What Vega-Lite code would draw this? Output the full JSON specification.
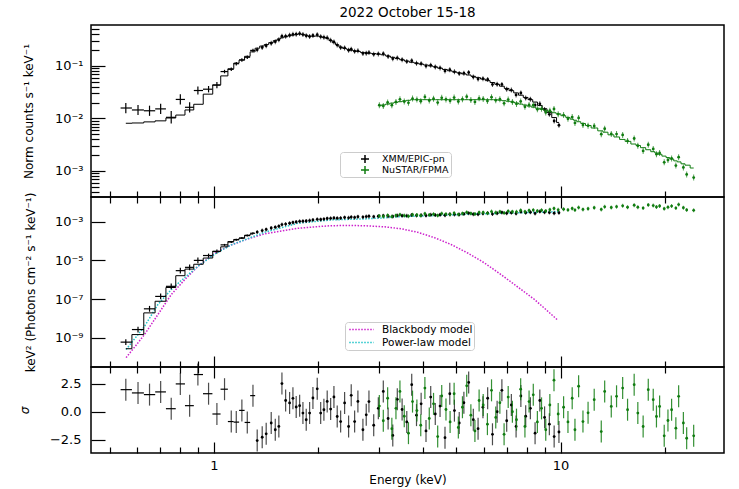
{
  "$schema": "https://vega.github.io/schema/vega-lite/v6.json",
  "background": "white",
  "padding": {"left": 17, "top": 4, "right": 5, "bottom": 5},
  "spacing": 0,
  "bounds": "flush",
  "config": {
    "font": "DejaVu Sans",
    "view": {"stroke": "#000000", "strokeWidth": 1.5},
    "axis": {"domain": false, "grid": false, "tickColor": "#000000", "tickWidth": 1.2, "labelColor": "#000000", "titleColor": "#000000", "labelFont": "DejaVu Sans", "titleFont": "DejaVu Sans", "labelFontSize": 13, "titleFontSize": 12, "titleFontWeight": "normal"}
  },
  "resolve": {"scale": {"x": "independent", "y": "independent", "color": "independent"}},
  "datasets": {
    "xmm": [
      {"E":0.557,"lo":0.538,"hi":0.58,"c":0.0158,"cl":0.0126,"ch":0.0197,"m":0.0081,"u":6.03e-10,"ul":4.27e-10,"uh":8.51e-10,"um":2.75e-10,"r":1.96},
      {"E":0.604,"lo":0.58,"hi":0.628,"c":0.0145,"cl":0.0116,"ch":0.0181,"m":0.0082,"u":2.69e-9,"ul":1.91e-9,"uh":3.8e-9,"um":1.48e-9,"r":1.67},
      {"E":0.652,"lo":0.628,"hi":0.677,"c":0.014,"cl":0.0112,"ch":0.0175,"m":0.0086,"u":3.16e-8,"ul":2.24e-8,"uh":4.47e-8,"um":1.95e-8,"r":1.52},
      {"E":0.702,"lo":0.677,"hi":0.727,"c":0.0152,"cl":0.0122,"ch":0.019,"m":0.009,"u":1.38e-7,"ul":9.77e-8,"uh":1.95e-7,"um":7.76e-8,"r":1.76},
      {"E":0.753,"lo":0.727,"hi":0.776,"c":0.0105,"cl":0.008,"ch":0.0138,"m":0.0102,"u":4.57e-7,"ul":3.24e-7,"uh":6.46e-7,"um":3.98e-7,"r":0.27},
      {"E":0.8,"lo":0.776,"hi":0.825,"c":0.023,"cl":0.0184,"ch":0.0288,"m":0.0116,"u":2.95e-6,"ul":2.09e-6,"uh":4.17e-6,"um":1.62e-6,"r":2.47},
      {"E":0.851,"lo":0.825,"hi":0.875,"c":0.0163,"cl":0.013,"ch":0.0204,"m":0.0145,"u":4.37e-6,"ul":3.09e-6,"uh":6.17e-6,"um":3.55e-6,"r":0.54},
      {"E":0.899,"lo":0.875,"hi":0.93,"c":0.034,"cl":0.0285,"ch":0.0405,"m":0.0186,"u":1e-5,"ul":7.08e-6,"uh":1.41e-5,"um":6.31e-6,"r":3.3},
      {"E":0.965,"lo":0.93,"hi":0.99,"c":0.036,"cl":0.0313,"ch":0.0414,"m":0.029,"u":1.78e-5,"ul":1.41e-5,"uh":2.24e-5,"um":1.32e-5,"r":1.6},
      {"E":1.02,"lo":0.99,"hi":1.045,"c":0.043,"cl":0.0374,"ch":0.0495,"m":0.0435,"u":2.88e-5,"ul":2.29e-5,"uh":3.63e-5,"um":2.95e-5,"r":-0.2},
      {"E":1.073,"lo":1.045,"hi":1.097,"c":0.078,"cl":0.0722,"ch":0.0842,"m":0.0645,"u":6.31e-5,"ul":5.62e-5,"uh":7.08e-5,"um":5.01e-5,"r":2.0},
      {"E":1.122,"lo":1.097,"hi":1.14,"c":0.086,"cl":0.0796,"ch":0.0929,"m":0.088,"u":8.91e-5,"ul":7.94e-5,"uh":1e-4,"um":9.33e-5,"r":-0.87},
      {"E":1.16,"lo":1.14,"hi":1.182,"c":0.11,"cl":0.1019,"ch":0.1188,"m":0.113,"u":1.148e-4,"ul":1.023e-4,"uh":1.288e-4,"um":1.202e-4,"r":-0.92},
      {"E":1.204,"lo":1.182,"hi":1.226,"c":0.13,"cl":0.1204,"ch":0.1404,"m":0.129,"u":1.413e-4,"ul":1.259e-4,"uh":1.585e-4,"um":1.413e-4,"r":0.12},
      {"E":1.248,"lo":1.226,"hi":1.272,"c":0.146,"cl":0.1352,"ch":0.1577,"m":0.152,"u":1.905e-4,"ul":1.698e-4,"uh":2.138e-4,"um":1.995e-4,"r":-0.95},
      {"E":1.296,"lo":1.272,"hi":1.315,"c":0.197,"cl":0.1824,"ch":0.2128,"m":0.185,"u":2.512e-4,"ul":2.239e-4,"uh":2.818e-4,"um":2.291e-4,"r":1.43},
      {"E":1.333,"c":0.2018,"m":0.2168,"u":0.0002877,"r":-2.56},
      {"E":1.378,"c":0.2239,"m":0.2382,"u":0.0003451,"r":-2.26},
      {"E":1.415,"c":0.2412,"m":0.2547,"u":0.0003958,"r":-1.96},
      {"E":1.463,"c":0.2698,"m":0.2773,"u":0.0004699,"r":-1.0},
      {"E":1.503,"c":0.2891,"m":0.302,"u":0.0005188,"r":-1.6},
      {"E":1.539,"c":0.3135,"m":0.3251,"u":0.0005786,"r":-1.3},
      {"E":1.571,"c":0.3673,"m":0.3428,"u":0.0007031,"r":2.5},
      {"E":1.61,"c":0.3673,"m":0.3573,"u":0.0007464,"r":1.0},
      {"E":1.653,"c":0.3823,"m":0.3741,"u":0.000821,"r":0.78},
      {"E":1.69,"c":0.3984,"m":0.3855,"u":0.0009041,"r":1.19},
      {"E":1.727,"c":0.3999,"m":0.3954,"u":0.0009616,"r":0.42},
      {"E":1.767,"c":0.4125,"m":0.4064,"u":0.001032,"r":0.54},
      {"E":1.806,"c":0.395,"m":0.3963,"u":0.001053,"r":-0.12},
      {"E":1.846,"c":0.3745,"m":0.3819,"u":0.001075,"r":-0.71},
      {"E":1.888,"c":0.3627,"m":0.3639,"u":0.001136,"r":-0.12},
      {"E":1.93,"c":0.3789,"m":0.3664,"u":0.001224,"r":1.22},
      {"E":1.986,"c":0.3921,"m":0.3707,"u":0.001317,"r":2.03},
      {"E":2.032,"c":0.3594,"m":0.3606,"u":0.001293,"r":-0.12},
      {"E":2.076,"c":0.3492,"m":0.3475,"u":0.001359,"r":0.18},
      {"E":2.122,"c":0.342,"m":0.3334,"u":0.001445,"r":0.92},
      {"E":2.171,"c":0.3061,"m":0.3041,"u":0.001479,"r":0.24},
      {"E":2.219,"c":0.2862,"m":0.2761,"u":0.001558,"r":1.31},
      {"E":2.268,"c":0.2489,"m":0.2518,"u":0.001514,"r":-0.42},
      {"E":2.32,"c":0.2227,"m":0.228,"u":0.001523,"r":-0.87},
      {"E":2.382,"c":0.22,"m":0.2153,"u":0.001627,"r":0.78},
      {"E":2.446,"c":0.1987,"m":0.2061,"u":0.001571,"r":-1.31},
      {"E":2.489,"c":0.2077,"m":0.1995,"u":0.00172,"r":1.46},
      {"E":2.546,"c":0.189,"m":0.1936,"u":0.001654,"r":-0.87},
      {"E":2.602,"c":0.1932,"m":0.1884,"u":0.001778,"r":0.92},
      {"E":2.69,"c":0.1725,"m":0.1803,"u":0.001721,"r":-1.6},
      {"E":2.75,"c":0.1749,"m":0.1762,"u":0.001814,"r":-0.27},
      {"E":2.8,"c":0.179,"m":0.1746,"u":0.001891,"r":0.9},
      {"E":2.89,"c":0.1658,"m":0.1714,"u":0.001809,"r":-1.2},
      {"E":2.98,"c":0.1693,"m":0.1679,"u":0.001916,"r":0.3},
      {"E":3.08,"c":0.1708,"m":0.1626,"u":0.00202,"r":1.8},
      {"E":3.18,"c":0.1513,"m":0.1538,"u":0.001913,"r":-0.6},
      {"E":3.28,"c":0.1373,"m":0.1455,"u":0.001861,"r":-2.1},
      {"E":3.38,"c":0.1419,"m":0.1377,"u":0.002056,"r":1.1},
      {"E":3.49,"c":0.1313,"m":0.1306,"u":0.002029,"r":0.2},
      {"E":3.6,"c":0.1206,"m":0.1236,"u":0.001991,"r":-0.9},
      {"E":3.72,"c":0.1253,"m":0.1172,"u":0.002207,"r":2.4},
      {"E":3.84,"c":0.1117,"m":0.1127,"u":0.002071,"r":-0.3},
      {"E":3.96,"c":0.1102,"m":0.1081,"u":0.002154,"r":0.7},
      {"E":4.09,"c":0.09922,"m":0.104,"u":0.002044,"r":-1.7},
      {"E":4.22,"c":0.1034,"m":0.09977,"u":0.002247,"r":1.3},
      {"E":4.35,"c":0.09519,"m":0.09572,"u":0.00218,"r":-0.2},
      {"E":4.49,"c":0.09162,"m":0.09036,"u":0.002259,"r":0.5},
      {"E":4.64,"c":0.08024,"m":0.08551,"u":0.002125,"r":-2.3},
      {"E":4.79,"c":0.08437,"m":0.08072,"u":0.002411,"r":1.6},
      {"E":4.94,"c":0.07713,"m":0.07691,"u":0.002351,"r":0.1},
      {"E":5.1,"c":0.07161,"m":0.07362,"u":0.002317,"r":-1.0},
      {"E":5.26,"c":0.07267,"m":0.07031,"u":0.002503,"r":0.8},
      {"E":5.43,"c":0.07478,"m":0.06714,"u":0.00274,"r":2.6},
      {"E":5.6,"c":0.06143,"m":0.06324,"u":0.002429,"r":-0.7},
      {"E":5.78,"c":0.0561,"m":0.0597,"u":0.002388,"r":-1.5},
      {"E":5.97,"c":0.05717,"m":0.05623,"u":0.002625,"r":0.4},
      {"E":6.16,"c":0.05503,"m":0.05236,"u":0.002764,"r":1.2},
      {"E":6.36,"c":0.04446,"m":0.04831,"u":0.00246,"r":-2.0},
      {"E":6.56,"c":0.04467,"m":0.04467,"u":0.002716,"r":0.0},
      {"E":6.77,"c":0.04448,"m":0.04111,"u":0.002987,"r":1.9},
      {"E":6.99,"c":0.03602,"m":0.03724,"u":0.002707,"r":-0.8},
      {"E":7.21,"c":0.03466,"m":0.03381,"u":0.002903,"r":0.6},
      {"E":7.44,"c":0.02799,"m":0.03062,"u":0.002624,"r":-1.3},
      {"E":7.68,"c":0.03055,"m":0.02773,"u":0.003206,"r":1.4},
      {"E":7.93,"c":0.02443,"m":0.02512,"u":0.002871,"r":-0.4},
      {"E":8.18,"c":0.02328,"m":0.0228,"u":0.003048,"r":0.3},
      {"E":8.44,"c":0.01799,"m":0.02051,"u":0.002655,"r":-1.9},
      {"E":8.71,"c":0.01897,"m":0.0177,"u":0.003289,"r":1.0},
      {"E":8.99,"c":0.01476,"m":0.01528,"u":0.003006,"r":-0.5},
      {"E":9.28,"c":0.01197,"m":0.01291,"u":0.002917,"r":-1.1},
      {"E":9.58,"c":0.008933,"m":0.0104,"u":0.002742,"r":-2.2},
      {"E":9.89,"c":0.007413,"m":0.008395,"u":0.002858,"r":-1.8}
    ],
    "nu": [
      {"E":3.0,"c":0.01789,"m":0.01738,"u":0.001961,"r":0.5},
      {"E":3.08,"c":0.01726,"m":0.01807,"u":0.001849,"r":-0.8},
      {"E":3.17,"c":0.02009,"m":0.01875,"u":0.002104,"r":1.2},
      {"E":3.26,"c":0.01789,"m":0.0195,"u":0.00183,"r":-1.5},
      {"E":3.35,"c":0.02058,"m":0.02023,"u":0.002063,"r":0.3},
      {"E":3.44,"c":0.02312,"m":0.02084,"u":0.002286,"r":1.8},
      {"E":3.54,"c":0.02099,"m":0.02148,"u":0.002042,"r":-0.4},
      {"E":3.64,"c":0.01984,"m":0.02213,"u":0.001903,"r":-1.9},
      {"E":3.74,"c":0.02385,"m":0.02275,"u":0.002273,"r":0.9},
      {"E":3.85,"c":0.02288,"m":0.02275,"u":0.002201,"r":0.1},
      {"E":3.95,"c":0.02123,"m":0.02275,"u":0.002075,"r":-1.2},
      {"E":4.06,"c":0.02568,"m":0.02275,"u":0.00255,"r":2.1},
      {"E":4.18,"c":0.02198,"m":0.02275,"u":0.002213,"r":-0.6},
      {"E":4.3,"c":0.02369,"m":0.02275,"u":0.002418,"r":0.7},
      {"E":4.42,"c":0.02004,"m":0.02275,"u":0.00208,"r":-2.2},
      {"E":4.54,"c":0.02466,"m":0.02275,"u":0.002594,"r":1.4},
      {"E":4.67,"c":0.02301,"m":0.02275,"u":0.00246,"r":0.2},
      {"E":4.8,"c":0.0216,"m":0.02275,"u":0.002347,"r":-0.9},
      {"E":4.93,"c":0.02495,"m":0.02275,"u":0.002754,"r":1.6},
      {"E":5.07,"c":0.02099,"m":0.02275,"u":0.00235,"r":-1.4},
      {"E":5.21,"c":0.02328,"m":0.02275,"u":0.002655,"r":0.4},
      {"E":5.36,"c":0.02597,"m":0.02275,"u":0.003017,"r":2.3},
      {"E":5.51,"c":0.02236,"m":0.02275,"u":0.002646,"r":-0.3},
      {"E":5.66,"c":0.02063,"m":0.02275,"u":0.002486,"r":-1.7},
      {"E":5.82,"c":0.0241,"m":0.02275,"u":0.002958,"r":1.0},
      {"E":5.98,"c":0.02355,"m":0.02275,"u":0.002944,"r":0.6},
      {"E":6.15,"c":0.02136,"m":0.02275,"u":0.00272,"r":-1.1},
      {"E":6.32,"c":0.02538,"m":0.02275,"u":0.0033,"r":1.9},
      {"E":6.5,"c":0.0221,"m":0.02275,"u":0.002934,"r":-0.5},
      {"E":6.68,"c":0.02328,"m":0.02223,"u":0.003228,"r":0.8},
      {"E":6.87,"c":0.01936,"m":0.02173,"u":0.002805,"r":-2.0},
      {"E":7.06,"c":0.02288,"m":0.02123,"u":0.003463,"r":1.3},
      {"E":7.26,"c":0.02056,"m":0.02056,"u":0.003281,"r":0.0},
      {"E":7.46,"c":0.0189,"m":0.01968,"u":0.003209,"r":-0.7},
      {"E":7.67,"c":0.02109,"m":0.01879,"u":0.003828,"r":2.0},
      {"E":7.89,"c":0.01669,"m":0.01799,"u":0.003224,"r":-1.3},
      {"E":8.11,"c":0.0181,"m":0.01718,"u":0.003737,"r":0.9},
      {"E":8.34,"c":0.01789,"m":0.01641,"u":0.003949,"r":1.5},
      {"E":8.57,"c":0.01488,"m":0.01567,"u":0.00352,"r":-0.9},
      {"E":8.81,"c":0.01522,"m":0.01496,"u":0.00385,"r":0.3},
      {"E":9.06,"c":0.013,"m":0.01426,"u":0.003524,"r":-1.6},
      {"E":9.31,"c":0.01403,"m":0.01355,"u":0.004093,"r":0.6},
      {"E":9.57,"c":0.0151,"m":0.01285,"u":0.004742,"r":2.8},
      {"E":9.84,"c":0.01208,"m":0.01222,"u":0.004074,"r":-0.2},
      {"E":10.2,"c":0.0116,"m":0.01128,"u":0.004335,"r":0.4},
      {"E":10.5,"c":0.00982,"m":0.01045,"u":0.004036,"r":-0.9},
      {"E":10.8,"c":0.0106,"m":0.0097,"u":0.004769,"r":1.2},
      {"E":11.0,"c":0.00821,"m":0.00924,"u":0.003925,"r":-1.6},
      {"E":11.27,"c":0.01023,"m":0.00866,"u":0.005302,"r":2.26},
      {"E":11.6,"c":0.00749,"m":0.00802,"u":0.004259,"r":-0.87},
      {"E":12.0,"c":0.00728,"m":0.00733,"u":0.00462,"r":-0.1},
      {"E":12.5,"c":0.00718,"m":0.00658,"u":0.005207,"r":1.07},
      {"E":13.1,"c":0.00502,"m":0.00581,"u":0.004251,"r":-1.76},
      {"E":13.4,"c":0.00636,"m":0.00547,"u":0.005792,"r":1.8},
      {"E":14.0,"c":0.00508,"m":0.00488,"u":0.005346,"r":0.47},
      {"E":14.5,"c":0.00504,"m":0.00444,"u":0.005927,"r":1.37},
      {"E":15.1,"c":0.00486,"m":0.00399,"u":0.006501,"r":2.1},
      {"E":15.6,"c":0.00372,"m":0.00366,"u":0.005516,"r":0.18},
      {"E":16.3,"c":0.00415,"m":0.00326,"u":0.007088,"r":2.4},
      {"E":16.7,"c":0.00302,"m":0.00306,"u":0.005567,"r":-0.12},
      {"E":17.3,"c":0.00241,"m":0.00278,"u":0.004994,"r":-1.31},
      {"E":17.9,"c":0.00316,"m":0.00254,"u":0.007278,"r":1.96},
      {"E":18.5,"c":0.00263,"m":0.00233,"u":0.006723,"r":1.07},
      {"E":18.9,"c":0.00209,"m":0.0022,"u":0.005705,"r":-0.42},
      {"E":19.3,"c":0.00221,"m":0.00208,"u":0.006416,"r":0.47},
      {"E":19.9,"c":0.00146,"m":0.00192,"u":0.004658,"r":-2.14},
      {"E":20.4,"c":0.00162,"m":0.0018,"u":0.005557,"r":-0.78},
      {"E":20.9,"c":0.00173,"m":0.00169,"u":0.006319,"r":0.18},
      {"E":21.5,"c":0.00127,"m":0.00156,"u":0.004989,"r":-1.46},
      {"E":21.9,"c":0.00183,"m":0.00149,"u":0.007592,"r":1.37},
      {"E":22.6,"c":0.00117,"m":0.00137,"u":0.005188,"r":-1.0},
      {"E":23.1,"c":0.00086,"m":0.00129,"u":0.004018,"r":-2.35},
      {"E":24.2,"c":0.00075,"m":0.00114,"u":0.003828,"r":-2.14}
    ],
    "mod": [
      {"E":0.558,"f":9.55e-11,"comp":"Blackbody model"},
      {"E":0.597,"f":4.27e-10,"comp":"Blackbody model"},
      {"E":0.631,"f":1.51e-9,"comp":"Blackbody model"},
      {"E":0.689,"f":1.58e-8,"comp":"Blackbody model"},
      {"E":0.753,"f":1.7e-7,"comp":"Blackbody model"},
      {"E":0.823,"f":1.0e-6,"comp":"Blackbody model"},
      {"E":0.899,"f":4.9e-6,"comp":"Blackbody model"},
      {"E":1.005,"f":2.34e-5,"comp":"Blackbody model"},
      {"E":1.122,"f":6.31e-5,"comp":"Blackbody model"},
      {"E":1.253,"f":1.29e-4,"comp":"Blackbody model"},
      {"E":1.4,"f":2.34e-4,"comp":"Blackbody model"},
      {"E":1.564,"f":3.31e-4,"comp":"Blackbody model"},
      {"E":1.75,"f":4.57e-4,"comp":"Blackbody model"},
      {"E":1.95,"f":5.37e-4,"comp":"Blackbody model"},
      {"E":2.18,"f":6.17e-4,"comp":"Blackbody model"},
      {"E":2.43,"f":6.31e-4,"comp":"Blackbody model"},
      {"E":2.72,"f":6.17e-4,"comp":"Blackbody model"},
      {"E":3.11,"f":5.37e-4,"comp":"Blackbody model"},
      {"E":3.47,"f":4.27e-4,"comp":"Blackbody model"},
      {"E":3.87,"f":2.82e-4,"comp":"Blackbody model"},
      {"E":4.33,"f":1.48e-4,"comp":"Blackbody model"},
      {"E":4.83,"f":6.61e-5,"comp":"Blackbody model"},
      {"E":5.41,"f":2.34e-5,"comp":"Blackbody model"},
      {"E":6.04,"f":7.24e-6,"comp":"Blackbody model"},
      {"E":6.74,"f":1.82e-6,"comp":"Blackbody model"},
      {"E":7.53,"f":4.17e-7,"comp":"Blackbody model"},
      {"E":8.41,"f":9.55e-8,"comp":"Blackbody model"},
      {"E":9.19,"f":2.34e-8,"comp":"Blackbody model"},
      {"E":9.83,"f":7.94e-9,"comp":"Blackbody model"},
      {"E":0.558,"f":2.51e-10,"comp":"Power-law model"},
      {"E":0.631,"f":3.98e-9,"comp":"Power-law model"},
      {"E":0.689,"f":5.25e-8,"comp":"Power-law model"},
      {"E":0.753,"f":3.09e-7,"comp":"Power-law model"},
      {"E":0.8,"f":8.32e-7,"comp":"Power-law model"},
      {"E":0.899,"f":4.9e-6,"comp":"Power-law model"},
      {"E":1.005,"f":2.09e-5,"comp":"Power-law model"},
      {"E":1.122,"f":6.31e-5,"comp":"Power-law model"},
      {"E":1.4,"f":2.82e-4,"comp":"Power-law model"},
      {"E":1.75,"f":8.32e-4,"comp":"Power-law model"},
      {"E":2.18,"f":1.23e-3,"comp":"Power-law model"},
      {"E":2.72,"f":1.38e-3,"comp":"Power-law model"},
      {"E":3.11,"f":1.58e-3,"comp":"Power-law model"},
      {"E":3.47,"f":1.82e-3,"comp":"Power-law model"},
      {"E":4.33,"f":2.04e-3,"comp":"Power-law model"},
      {"E":5.41,"f":2.4e-3,"comp":"Power-law model"},
      {"E":6.74,"f":2.69e-3,"comp":"Power-law model"},
      {"E":8.41,"f":3.02e-3,"comp":"Power-law model"},
      {"E":9.83,"f":3.24e-3,"comp":"Power-law model"}
    ]
  },
  "vconcat": [
    {
      "width": 633, "height": 172,
      "title": {"text": "2022 October 15-18", "anchor": "middle", "frame": "group", "fontSize": 13.5, "fontWeight": "normal", "font": "DejaVu Sans", "offset": 6, "color": "#000000"},
      "resolve": {"axis": {"x": "independent", "y": "independent"}},
      "layer": [
        {
          "data": {"name": "xmm"},
          "mark": {"type": "rule", "color": "#000000", "strokeWidth": 1.2},
          "encoding": {
            "x": {"field": "lo", "type": "quantitative", "scale": {"type": "log", "domain": [0.442, 29.6], "nice": false},
                  "axis": {"orient": "bottom", "values": [0.5,0.6,0.7,0.8,0.9,2,3,4,5,6,7,8,9,20], "tickSize": -6, "labels": false, "title": null}},
            "x2": {"field": "hi"},
            "y": {"field": "c", "type": "quantitative", "scale": {"type": "log", "domain": [0.00032, 0.6], "nice": false},
                  "axis": {"orient": "left", "values": [0.001, 0.01, 0.1], "tickSize": -14, "labelPadding": 22, "titlePadding": 19,
                           "labelExpr": "datum.value > 0.05 ? '10⁻¹' : datum.value > 0.005 ? '10⁻²' : '10⁻³'",
                           "title": "Norm counts s⁻¹ keV⁻¹"}}
          }
        },
        {
          "data": {"name": "xmm"},
          "mark": {"type": "rule", "color": "#000000", "strokeWidth": 1.2},
          "encoding": {
            "x": {"field": "E", "type": "quantitative", "axis": {"orient": "bottom", "values": [1, 10], "tickSize": -11, "labels": false, "title": null}},
            "y": {"field": "cl", "type": "quantitative", "axis": {"orient": "left", "values": [0.0004,0.0005,0.0006,0.0007,0.0008,0.0009,0.002,0.003,0.004,0.005,0.006,0.007,0.008,0.009,0.02,0.03,0.04,0.05,0.06,0.07,0.08,0.09,0.2,0.3,0.4,0.5], "tickSize": -8, "labels": false, "title": null}},
            "y2": {"field": "ch"}
          }
        },
        {
          "data": {"name": "xmm"},
          "transform": [{"filter": "!isValid(datum.lo)"}],
          "mark": {"type": "tick", "orient": "vertical", "size": 5, "thickness": 1, "color": "#000000"},
          "encoding": {
            "x": {"field": "E", "type": "quantitative", "axis": null},
            "y": {"field": "c", "type": "quantitative", "axis": null}
          }
        },
        {
          "data": {"name": "xmm"},
          "transform": [{"filter": "!isValid(datum.lo)"}],
          "mark": {"type": "point", "filled": true, "size": 8, "color": "#000000", "opacity": 1},
          "encoding": {
            "x": {"field": "E", "type": "quantitative", "axis": null},
            "y": {"field": "c", "type": "quantitative", "axis": null}
          }
        },
        {
          "data": {"name": "xmm"},
          "mark": {"type": "line", "interpolate": "step", "strokeWidth": 1},
          "encoding": {
            "x": {"field": "E", "type": "quantitative", "axis": null},
            "y": {"field": "m", "type": "quantitative", "axis": null},
            "color": {"datum": "XMM/EPIC-pn", "type": "nominal",
                      "scale": {"domain": ["XMM/EPIC-pn", "NuSTAR/FPMA"], "range": ["#000000", "#107c10"]},
                      "legend": {"orient": "none", "legendX": 249, "legendY": 127, "title": null,
                                 "symbolType": "M-1,0H1M0,-1V1", "symbolSize": 64, "symbolStrokeWidth": 1.5,
                                 "labelFontSize": 9.5, "labelFont": "DejaVu Sans", "labelColor": "#000000",
                                 "labelExpr": "datum.label + '\u00a0\u00a0\u00a0\u00a0\u00a0\u00a0\u00a0'",
                                 "clipHeight": 10, "padding": 2, "rowPadding": 1, "labelOffset": 12, "symbolOffset": 18,
                                 "strokeColor": "#cccccc", "fillColor": "#ffffff", "cornerRadius": 3}}
          }
        },
        {
          "data": {"name": "nu"},
          "mark": {"type": "tick", "orient": "vertical", "size": 6, "thickness": 1, "color": "#107c10"},
          "encoding": {
            "x": {"field": "E", "type": "quantitative", "axis": null},
            "y": {"field": "c", "type": "quantitative", "axis": null}
          }
        },
        {
          "data": {"name": "nu"},
          "mark": {"type": "point", "filled": true, "size": 8, "color": "#107c10", "opacity": 1},
          "encoding": {
            "x": {"field": "E", "type": "quantitative", "axis": null},
            "y": {"field": "c", "type": "quantitative", "axis": null}
          }
        },
        {
          "data": {"name": "nu"},
          "mark": {"type": "line", "interpolate": "step", "strokeWidth": 1},
          "encoding": {
            "x": {"field": "E", "type": "quantitative", "axis": null},
            "y": {"field": "m", "type": "quantitative", "axis": null},
            "color": {"datum": "NuSTAR/FPMA", "type": "nominal"}
          }
        }
      ]
    },
    {
      "width": 633, "height": 170,
      "resolve": {"axis": {"x": "independent", "y": "independent"}},
      "layer": [
        {
          "data": {"name": "mod"},
          "mark": {"type": "line", "strokeWidth": 1.5, "strokeDash": [1.5, 1.5]},
          "encoding": {
            "x": {"field": "E", "type": "quantitative", "scale": {"type": "log", "domain": [0.442, 29.6], "nice": false},
                  "axis": {"orient": "bottom", "values": [0.5,0.6,0.7,0.8,0.9,2,3,4,5,6,7,8,9,20], "tickSize": -6, "labels": false, "title": null}},
            "y": {"field": "f", "type": "quantitative", "scale": {"type": "log", "domain": [3.14e-11, 0.01866], "nice": false},
                  "axis": {"orient": "left", "values": [1e-9, 1e-7, 1e-5, 1e-3], "tickSize": -14, "labelPadding": 22, "titlePadding": 17,
                           "labelExpr": "datum.value > 1e-4 ? '10⁻³' : datum.value > 1e-6 ? '10⁻⁵' : datum.value > 1e-8 ? '10⁻⁷' : '10⁻⁹'",
                           "title": "keV² (Photons cm⁻² s⁻¹ keV⁻¹)"}},
            "color": {"field": "comp", "type": "nominal",
                      "scale": {"domain": ["Blackbody model", "Power-law model"], "range": ["#cc22cc", "#22c4c8"]},
                      "legend": {"orient": "none", "legendX": 254, "legendY": 125, "title": null,
                                 "symbolType": "stroke", "symbolSize": 600, "symbolDash": [1.5, 1.5], "symbolStrokeWidth": 1.6,
                                 "labelFontSize": 10.5, "labelFont": "DejaVu Sans", "labelColor": "#000000",
                                 "labelExpr": "datum.label + '\u00a0\u00a0\u00a0\u00a0\u00a0\u00a0\u00a0\u00a0'",
                                 "clipHeight": 13, "padding": 1, "rowPadding": 0, "labelOffset": 7, "symbolOffset": 2,
                                 "strokeColor": "#cccccc", "fillColor": "#ffffff", "cornerRadius": 3}}
          }
        },
        {
          "data": {"name": "xmm"},
          "mark": {"type": "rule", "color": "#000000", "strokeWidth": 1.2},
          "encoding": {
            "x": {"field": "lo", "type": "quantitative", "axis": {"orient": "bottom", "values": [1, 10], "tickSize": -11, "labels": false, "title": null}},
            "x2": {"field": "hi"},
            "y": {"field": "u", "type": "quantitative", "axis": null}
          }
        },
        {
          "data": {"name": "xmm"},
          "mark": {"type": "rule", "color": "#000000", "strokeWidth": 1.2},
          "encoding": {
            "x": {"field": "E", "type": "quantitative", "axis": {"orient": "top", "values": [0.5,0.6,0.7,0.8,0.9,2,3,4,5,6,7,8,9,20], "tickSize": -6, "labels": false, "title": null}},
            "y": {"field": "ul", "type": "quantitative", "axis": null},
            "y2": {"field": "uh"}
          }
        },
        {
          "data": {"name": "xmm"},
          "mark": {"type": "line", "interpolate": "step", "strokeWidth": 1, "color": "#000000"},
          "encoding": {
            "x": {"field": "E", "type": "quantitative", "axis": {"orient": "top", "values": [1, 10], "tickSize": -11, "labels": false, "title": null}},
            "y": {"field": "um", "type": "quantitative", "axis": null}
          }
        },
        {
          "data": {"name": "xmm"},
          "transform": [{"filter": "!isValid(datum.lo)"}],
          "mark": {"type": "tick", "orient": "vertical", "size": 4, "thickness": 1, "color": "#000000"},
          "encoding": {
            "x": {"field": "E", "type": "quantitative", "axis": null},
            "y": {"field": "u", "type": "quantitative", "axis": null}
          }
        },
        {
          "data": {"name": "xmm"},
          "transform": [{"filter": "!isValid(datum.lo)"}],
          "mark": {"type": "point", "filled": true, "size": 8, "color": "#000000", "opacity": 1},
          "encoding": {
            "x": {"field": "E", "type": "quantitative", "axis": null},
            "y": {"field": "u", "type": "quantitative", "axis": null}
          }
        },
        {
          "data": {"name": "nu"},
          "mark": {"type": "tick", "orient": "vertical", "size": 4, "thickness": 1, "color": "#107c10"},
          "encoding": {
            "x": {"field": "E", "type": "quantitative", "axis": null},
            "y": {"field": "u", "type": "quantitative", "axis": null}
          }
        },
        {
          "data": {"name": "nu"},
          "mark": {"type": "point", "filled": true, "size": 8, "color": "#107c10", "opacity": 1},
          "encoding": {
            "x": {"field": "E", "type": "quantitative", "axis": null},
            "y": {"field": "u", "type": "quantitative", "axis": null}
          }
        }
      ]
    },
    {
      "width": 633, "height": 86,
      "resolve": {"axis": {"x": "independent", "y": "independent"}},
      "layer": [
        {
          "data": {"name": "xmm"},
          "mark": {"type": "rule", "color": "#000000", "strokeWidth": 1.2},
          "encoding": {
            "x": {"field": "lo", "type": "quantitative", "scale": {"type": "log", "domain": [0.442, 29.6], "nice": false},
                  "axis": {"orient": "bottom", "values": [0.5,0.6,0.7,0.8,0.9,2,3,4,5,6,7,8,9,20], "tickSize": -6, "labels": false, "title": null}},
            "x2": {"field": "hi"},
            "y": {"field": "r", "type": "quantitative", "scale": {"domain": [-3.66, 3.97], "nice": false, "zero": false},
                  "axis": {"orient": "left", "values": [-2.5, 0, 2.5], "format": ".1f", "tickSize": -14, "labelPadding": 24, "titlePadding": 18,
                           "title": "σ", "titleFontStyle": "italic"}}
          }
        },
        {
          "data": {"name": "xmm"},
          "mark": {"type": "tick", "orient": "vertical", "size": 22, "thickness": 1.2, "color": "#000000"},
          "encoding": {
            "x": {"field": "E", "type": "quantitative", "axis": {"orient": "bottom", "values": [1, 10], "format": "d", "tickSize": -11, "labelPadding": 17, "title": "Energy (keV)", "titlePadding": 2}},
            "y": {"field": "r", "type": "quantitative", "axis": null}
          }
        },
        {
          "data": {"name": "xmm"},
          "transform": [{"filter": "!isValid(datum.lo)"}],
          "mark": {"type": "point", "filled": true, "size": 8, "color": "#000000", "opacity": 1},
          "encoding": {
            "x": {"field": "E", "type": "quantitative", "axis": {"orient": "top", "values": [0.5,0.6,0.7,0.8,0.9,2,3,4,5,6,7,8,9,20], "tickSize": -6, "labels": false, "title": null}},
            "y": {"field": "r", "type": "quantitative", "axis": null}
          }
        },
        {
          "data": {"name": "nu"},
          "mark": {"type": "tick", "orient": "vertical", "size": 22, "thickness": 1.2, "color": "#107c10", "opacity": 0.85},
          "encoding": {
            "x": {"field": "E", "type": "quantitative", "axis": {"orient": "top", "values": [1, 10], "tickSize": -11, "labels": false, "title": null}},
            "y": {"field": "r", "type": "quantitative", "axis": null}
          }
        },
        {
          "data": {"name": "nu"},
          "mark": {"type": "point", "filled": true, "size": 8, "color": "#107c10", "opacity": 1},
          "encoding": {
            "x": {"field": "E", "type": "quantitative", "axis": null},
            "y": {"field": "r", "type": "quantitative", "axis": null}
          }
        },
        {
          "mark": {"type": "rule", "color": "#22ee22", "strokeWidth": 2},
          "encoding": {
            "y": {"datum": 0, "type": "quantitative", "axis": null}
          }
        }
      ]
    }
  ]
}
